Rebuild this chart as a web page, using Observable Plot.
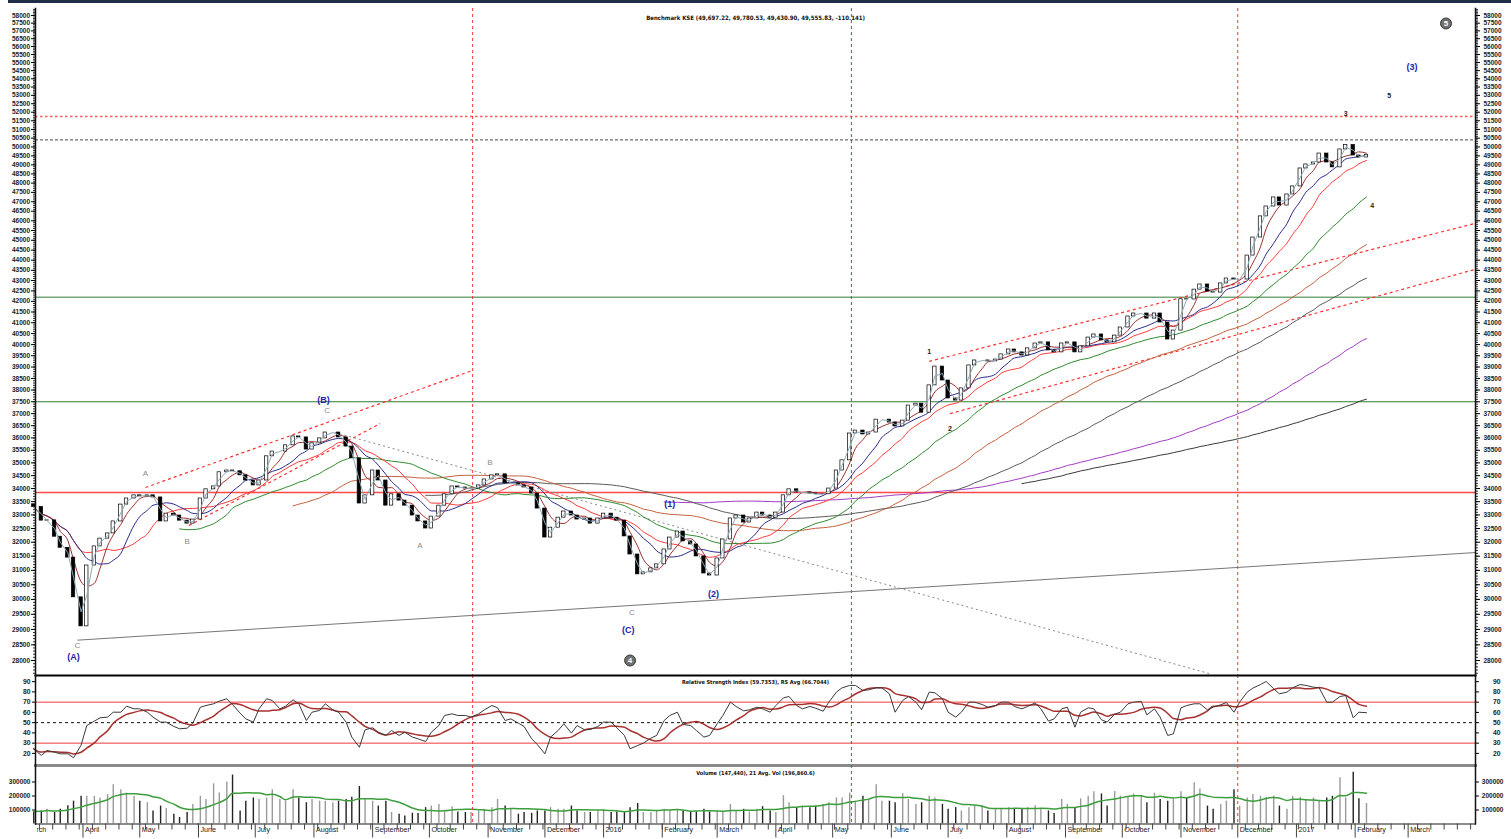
<!DOCTYPE html>
<html><head><meta charset="utf-8">
<script src="https://cdn.jsdelivr.net/npm/d3@7"></script>
<script src="https://cdn.jsdelivr.net/npm/@observablehq/plot@0.6"></script>
<style>
body{margin:0;background:#fff;width:1511px;height:839px;overflow:hidden;position:relative;font-family:"Liberation Sans",Arial,sans-serif}
#topbar{position:absolute;left:8px;top:0;width:1503px;height:3px;background:#1f2d46;z-index:5}
.panel{position:absolute;left:0}
#mask{position:absolute;left:0;top:826px;width:37px;height:13px;background:#fff;z-index:5}
</style></head><body>
<div id="topbar"></div>
<div id="main" class="panel" style="top:0"></div>
<div id="rsi" class="panel" style="top:675px"></div>
<div id="vol" class="panel" style="top:765px"></div>
<div id="mask"></div>
<script>
// ---------- DATA (semi-weekly samples Tue/Fri) ----------
const firstOpen = 33400;
const closes = [
33300,32790,32800,32200,31800,31450,30070,29100,31170,31850,
32130,32320,32760,33390,33620,33740,33700,33740,33660,32760,
33050,32980,32790,32680,32830,33620,33970,34080,34630,34700,
34670,34510,34310,34120,34310,35260,35450,35450,35700,36060,
36020,35530,35780,35980,36220,36220,36020,35650,35180,33430,
33740,34700,34310,33350,33780,33540,33350,32980,32760,32500,
32940,33350,33780,34080,34040,34000,34000,34120,34350,34510,
34550,34200,34200,34120,34040,33810,33240,32170,32530,32900,
33130,32980,32830,32870,32680,32870,33050,32900,32790,32210,
31560,30860,30930,31070,31210,31740,32170,32390,32030,31920,
31490,30890,30820,31420,32100,32870,32980,32720,32870,33090,
32980,32900,33090,33740,33970,33850,33850,33810,33780,33780,
34000,34700,35100,36180,36300,36140,36220,36750,36750,36630,
36470,36710,37340,37420,37040,38200,39020,38410,37640,37550,
38070,39070,39290,39290,39250,39330,39560,39780,39650,39510,
39830,40050,40100,39740,39650,40050,40100,39650,39920,40320,
40460,40190,40100,40410,40780,41290,41430,41430,41190,41430,
41010,40230,40640,42100,42090,42560,42810,42470,42420,42860,
43100,43050,43050,44230,45140,46230,46750,47230,46800,47390,
47820,48800,49020,49130,49630,49130,48860,49860,50110,49520,
49410,49560
];
const volumeThousands = [
90,93,105,82,105,130,163,198,198,198,
186,210,280,245,221,198,163,152,93,128,
110,70,47,82,140,198,175,287,221,300,
350,93,163,186,175,186,245,175,163,245,
186,152,175,163,163,152,163,175,191,268,
175,163,128,163,82,70,58,77,75,117,
128,140,86,124,86,82,82,93,105,117,
175,
128,105,70,82,77,93,93,117,105,105,
128,93,82,82,93,105,82,86,82,117,
147,82,82,93,105,93,105,93,82,86,
105,86,93,82,140,93,105,86,105,124,
93,82,203,152,117,128,117,128,140,152,
186,186,221,163,198,175,280,163,163,152,
217,175,140,152,198,186,140,105,117,93,
117,128,128,93,105,
105,117,105,110,117,130,105,93,75,175,
140,110,180,198,230,215,128,233,200,190,
215,198,152,220,175,163,175,230,190,295,
250,128,105,140,163,245,128,186,210,198,
190,200,128,105,198,190,175,186,163,186,
198,330,186,370,180,147
];
const rsiValues = [
24.5,18,22.8,21.2,19.6,19.6,15.7,28,47.2,51.5,
54.7,55.4,60.2,60.2,66.1,63.5,63.5,60.2,55.4,50.5,
50.5,46.3,44,44.6,49.5,65.1,66.7,68.4,71,73.3,
67.7,59.3,53.7,50.5,63.5,73.3,71.6,63.5,66.1,72.3,
68.4,52.1,60.2,61.9,68.4,62.5,60.2,50.5,35.9,26,
43,45,40.7,37.5,42.4,37.5,40.7,35.9,34.2,31.6,
40.7,47.2,57,58.6,57,57,55.4,58.6,62.5,66.7,
64.5,
52.1,53.7,49.5,46.3,34.2,28.7,19.6,35.9,42.4,48.9,
39.8,47.2,43,43.3,46.3,50.5,50.5,45,37.5,24.5,
27.7,30,34.9,37.5,52.1,57,60.2,48.2,47.2,42.4,
35.9,37.5,48.9,57,70,65.8,61.5,62.5,65.1,63.5,
60.2,66.7,74.2,75.5,66.7,63.5,65.8,64.1,61.2,70,
79.8,84,86.3,86.3,81.4,82,84,84,78.1,60.2,
71.6,75.5,70,62.5,79.8,79.1,73.3,60.2,55.4,60.2,
70,70,67.7,65.1,66.7,
70,70,65.8,63.5,65.8,69.3,63.5,51.5,53.7,63.5,
65.1,45.6,60.2,64.5,63.5,52.8,50.5,58.3,60.2,68.4,
70,70.7,57.6,63.5,55.4,37.5,39.1,64.5,66.7,68.4,
68.4,62.5,65.1,67.4,69.7,60.2,70,79.8,83.7,87.2,
90.2,83,78.1,79.8,84,87.2,86.3,84.6,84,70,
70,75.5,76.5,54.7,60.2,59.7
];
// sample dates: every Tuesday and Friday
const sampleDates = d3.utcDay.range(new Date("2015-03-06"), new Date("2017-02-08"))
  .filter(d => d.getUTCDay() === 5 || d.getUTCDay() === 2);

// horizontal levels
const levelRedDotted = [51750];
const levelBlackDashed = [50400];
const levelGreen = [42200, 37500];
const levelRed = [33850];
// vertical markers
const markerRed = ["2015-10-23T20:00Z", "2016-12-01T00:00Z"];
const markerGreen = ["2016-05-10T22:00Z"];
// trend lines
const trendSupport = [{d1:"2015-03-29", v1:28650, d2:"2017-04-05T14:00Z", v2:31630}];
const trendRedDotted = [
  {d1:"2015-05-04", v1:34040, d2:"2015-10-23T20:00Z", v2:38850},
  {d1:"2015-05-27", v1:32610, d2:"2015-09-05", v2:36590},
  {d1:"2016-06-21", v1:39250, d2:"2017-04-05T14:00Z", v2:45870},
  {d1:"2016-07-02", v1:37000, d2:"2017-04-05T14:00Z", v2:43550}
];
const trendGrayDotted = [{d1:"2015-08-12", v1:36220, d2:"2016-11-16", v2:27590}];
// wave labels
const labelsMajor = [
  {date:"2015-03-27", value:28100, text:"(A)"},
  {date:"2015-08-06", value:37590, text:"(B)"},
  {date:"2016-02-05", value:33390, text:"(1)"},
  {date:"2016-01-14", value:28970, text:"(C)"},
  {date:"2016-02-28", value:30170, text:"(2)"},
  {date:"2017-03-03", value:54720, text:"(3)"}
];
const labelsMinor = [
  {date:"2015-03-29", value:28480, text:"C"},
  {date:"2015-05-04", value:34590, text:"A"},
  {date:"2015-05-26", value:32030, text:"B"},
  {date:"2015-08-08", value:37130, text:"C"},
  {date:"2015-09-26", value:31880, text:"A"},
  {date:"2015-11-02", value:35020, text:"B"},
  {date:"2016-01-16", value:29560, text:"C"}
];
const labelsCount = [
  {date:"2016-06-21", value:39690, text:"1"},
  {date:"2016-07-02", value:36385, text:"2"},
  {date:"2017-01-27", value:51920, text:"3"},
  {date:"2017-02-10", value:46800, text:"4"},
  {date:"2017-02-19", value:52960, text:"5"}
];
const labelsCircled = [
  {date:"2016-01-15", value:28000, text:"4"},
  {date:"2017-03-21", value:57480, text:"5"}
];
const mainTitle = "Benchmark KSE (49,697.22, 49,780.53, 49,430.90, 49,555.83, -110.141)";
const rsiTitle = "Relative Strength Index (59.7353), RS Avg (66.7044)";
const volTitle = "Volume (147,440), 21 Avg. Vol (196,860.6)";
const priceTicks = d3.range(28000, 58001, 500);
const rsiTicks = [20,30,40,50,60,70,80,90];
const volTicks = [100000, 200000, 300000];

// ---------- BUILD ----------
const DAY = 864e5;
const n = Math.min(sampleDates.length, closes.length, volumeThousands.length, rsiValues.length);
const rows = d3.range(n).map(i => ({
  date: sampleDates[i],
  open: i ? closes[i-1] : firstOpen,
  close: closes[i],
  volume: volumeThousands[i] * 1000,
  rsi: rsiValues[i]
}));
const xDomain = [new Date(Date.UTC(2015,2,6,22)), new Date(Date.UTC(2017,3,5,14))];
const FONT = "Liberation Sans, Arial, sans-serif";
const NARROW = "Liberation Sans Narrow, DejaVu Sans Condensed, Liberation Sans, Arial";
const W = 1511, ML = 35, MR = 36;
const seg = d => ({x1: new Date(d.d1), y1: d.v1, x2: new Date(d.d2), y2: d.v2});
const toSeg = arr => arr.map(seg);
const lbl = arr => arr.map(d => ({...d, date: new Date(d.date)}));

const maDefs = [
  {k:150, stroke:"#3a3a3a", strict:true},
  {k:96, stroke:"#a23cc4", strict:true},
  {k:60, stroke:"#5a5a5a", strict:true},
  {k:40, stroke:"#c2623e", strict:true},
  {k:23, stroke:"#2f8a2f", strict:true},
  {k:12, stroke:"#ff3a3a", strict:false},
  {k:8, stroke:"#2b2b8c", strict:false},
  {k:4, stroke:"#9b2f2f", strict:false}
];

const axisTxt = {fontSize: 6.5, fontWeight: "bold", fill: "#222", fontFamily: FONT};

const main = Plot.plot({
  width: W, height: 675, marginLeft: ML, marginRight: MR, marginTop: 8, marginBottom: 0,
  style: {background: "transparent", fontFamily: FONT, overflow: "visible"},
  x: {type: "utc", domain: xDomain, axis: null},
  y: {type: "log", domain: [27530, 58460]},
  marks: [
    Plot.axisY({anchor: "left", ticks: d3.range(27600, 58401, 100), tickSize: 2, tickFormat: () => "", label: null, stroke: "#333"}),
    Plot.axisY({anchor: "right", ticks: d3.range(27600, 58401, 100), tickSize: 2, tickFormat: () => "", label: null, stroke: "#333"}),
    Plot.axisY({anchor: "left", ticks: priceTicks, tickSize: 4, tickPadding: 1.5, tickFormat: d => String(d), label: null, ...axisTxt}),
    Plot.axisY({anchor: "right", ticks: priceTicks, tickSize: 4, tickPadding: 4, tickFormat: d => String(d), label: null, ...axisTxt}),
    Plot.ruleY(levelRedDotted, {stroke: "#ff5a5a", strokeWidth: 1.6, strokeDasharray: "2.5,2.5"}),
    Plot.ruleY(levelBlackDashed, {stroke: "#333", strokeWidth: 0.9, strokeDasharray: "3,2"}),
    Plot.ruleY(levelGreen, {stroke: "#2e7d32", strokeWidth: 1}),
    Plot.ruleY(levelRed, {stroke: "#ff4a4a", strokeWidth: 1.4}),
    Plot.ruleX(markerRed.map(d => new Date(d)), {stroke: "#ff3030", strokeDasharray: "3,3", strokeWidth: 1}),
    Plot.ruleX(markerGreen.map(d => new Date(d)), {stroke: "#2a8a2a", strokeDasharray: "3,3", strokeWidth: 1}),
    Plot.link(toSeg(trendSupport), {x1:"x1", y1:"y1", x2:"x2", y2:"y2", stroke: "#777", strokeWidth: 1}),
    Plot.link(toSeg(trendRedDotted), {x1:"x1", y1:"y1", x2:"x2", y2:"y2", stroke: "#ff3030", strokeWidth: 1.2, strokeDasharray: "3,3"}),
    Plot.link(toSeg(trendGrayDotted), {x1:"x1", y1:"y1", x2:"x2", y2:"y2", stroke: "#888", strokeWidth: 1, strokeDasharray: "2,3"}),
    ...maDefs.map(m => Plot.lineY(rows, Plot.windowY({k: m.k, reduce: "mean", anchor: "end", strict: m.strict},
      {x: "date", y: "close", stroke: m.stroke, strokeWidth: 1, curve: "monotone-x"}))),
    Plot.rect(rows, {
      x1: d => new Date(+d.date - 0.9 * DAY), x2: d => new Date(+d.date + 0.9 * DAY),
      y1: "open", y2: "close",
      fill: d => d.close >= d.open ? "#fff" : "#000", stroke: "#000", strokeWidth: 0.7
    }),
    Plot.lineY(rows, Plot.windowY({k: 2, reduce: "mean", anchor: "end"}, {x: "date", y: "close", stroke: "#8fa9b8", strokeWidth: 1})),
    Plot.text(lbl(labelsMajor), {x: "date", y: "value", text: "text", fill: "#2424a8", fontWeight: "bold", fontSize: 9, fontFamily: FONT}),
    Plot.text(lbl(labelsMinor), {x: "date", y: "value", text: "text", fill: "#8a8a8a", fontSize: 8, fontFamily: FONT}),
    Plot.text(lbl(labelsCount), {x: "date", y: "value", text: "text", fill: "#222", fontWeight: "bold", fontSize: 7, fontFamily: FONT}),
    Plot.dot(lbl(labelsCircled), {x: "date", y: "value", r: 5.5, fill: "#6f6f6f", stroke: "#3a3a3a", strokeWidth: 1}),
    Plot.text(lbl(labelsCircled), {x: "date", y: "value", text: "text", fill: "#fff", fontWeight: "bold", fontSize: 8, fontFamily: FONT}),
    Plot.text([mainTitle], {text: d => d, frameAnchor: "top", dy: 7, fontSize: 6, fontWeight: "bold", fill: "#111", fontFamily: NARROW}),
    Plot.frame({anchor: "left", stroke: "#111", strokeWidth: 1.5}),
    Plot.frame({anchor: "right", stroke: "#111", strokeWidth: 1.5})
  ]
});
document.getElementById("main").appendChild(main);

const rsiChart = Plot.plot({
  width: W, height: 90, marginLeft: ML, marginRight: MR, marginTop: 0, marginBottom: 0,
  style: {background: "transparent", fontFamily: FONT, overflow: "visible"},
  x: {type: "utc", domain: xDomain, axis: null},
  y: {domain: [8.2, 96]},
  marks: [
    Plot.axisY({anchor: "left", ticks: rsiTicks, tickSize: 3, tickPadding: 2, tickFormat: d => String(d), label: null, ...axisTxt, fontSize: 6.8}),
    Plot.axisY({anchor: "right", ticks: rsiTicks, tickSize: 3, tickPadding: 22, textAnchor: "end", tickFormat: d => String(d), label: null, ...axisTxt, fontSize: 6.8}),
    Plot.ruleY([70, 30], {stroke: "#f03a3a", strokeWidth: 1}),
    Plot.ruleY([50], {stroke: "#111", strokeDasharray: "3,3", strokeWidth: 1}),
    Plot.ruleX(markerRed.map(d => new Date(d)), {stroke: "#ff3030", strokeDasharray: "3,3", strokeWidth: 1}),
    Plot.ruleX(markerGreen.map(d => new Date(d)), {stroke: "#2a8a2a", strokeDasharray: "3,3", strokeWidth: 1}),
    Plot.lineY(rows, Plot.windowY({k: 6, reduce: "mean", anchor: "end"}, {x: "date", y: "rsi", stroke: "#a8302e", strokeWidth: 1.5, curve: "monotone-x"})),
    Plot.lineY(rows, {x: "date", y: "rsi", stroke: "#3a3a3a", strokeWidth: 1}),
    Plot.text([rsiTitle], {text: d => d, frameAnchor: "top", dy: 5, fontSize: 5.5, fontWeight: "bold", fill: "#111", fontFamily: NARROW}),
    Plot.frame({anchor: "top", stroke: "#000", strokeWidth: 2}),
    Plot.frame({anchor: "bottom", stroke: "#8a8a8a", strokeWidth: 3}),
    Plot.frame({anchor: "left", stroke: "#111", strokeWidth: 1.5}),
    Plot.frame({anchor: "right", stroke: "#111", strokeWidth: 1.5})
  ]
});
document.getElementById("rsi").appendChild(rsiChart);

const weeks = d3.utcMonday.range(xDomain[0], xDomain[1]);
const monthStarts = d3.utcMonth.range(new Date("2015-03-01"), new Date("2017-04-01"));
const monthLabels = monthStarts.map(d => ({date: d, label: d.getUTCMonth() === 0 ? String(d.getUTCFullYear()) : d3.utcFormat("%B")(d)}));

const volChart = Plot.plot({
  width: W, height: 74, marginLeft: ML, marginRight: MR, marginTop: 0, marginBottom: 15.5,
  style: {background: "transparent", fontFamily: FONT, overflow: "visible"},
  x: {type: "utc", domain: xDomain},
  y: {domain: [0, 418000]},
  marks: [
    Plot.axisY({anchor: "left", ticks: volTicks, tickSize: 3, tickPadding: 2, tickFormat: d => String(d), label: null, ...axisTxt}),
    Plot.axisY({anchor: "right", ticks: volTicks, tickSize: 3, tickPadding: 25, textAnchor: "end", tickFormat: d => String(d), label: null, ...axisTxt}),
    Plot.ruleX(rows, {x: "date", y1: 0, y2: "volume", stroke: d => d.close >= d.open ? "#9a9a9a" : "#222", strokeWidth: 1.4}),
    Plot.lineY(rows, Plot.windowY({k: 8, reduce: "mean", anchor: "end"}, {x: "date", y: "volume", stroke: "#3d9e3d", strokeWidth: 1.5, curve: "monotone-x"})),
    Plot.ruleX(markerRed.map(d => new Date(d)), {stroke: "#ff3030", strokeDasharray: "3,3", strokeWidth: 1}),
    Plot.ruleX(markerGreen.map(d => new Date(d)), {stroke: "#2a8a2a", strokeDasharray: "3,3", strokeWidth: 1}),
    Plot.text([volTitle], {text: d => d, frameAnchor: "top", dy: 6, fontSize: 5.5, fontWeight: "bold", fill: "#111", fontFamily: NARROW}),
    Plot.ruleY([0], {stroke: "#666", strokeWidth: 1.5}),
    Plot.axisX({ticks: weeks, tickSize: 6, tickFormat: () => "", label: null, stroke: "#444"}),
    Plot.axisX({ticks: monthStarts.filter(d => d >= xDomain[0]), tickSize: 14, tickFormat: () => "", label: null, stroke: "#444"}),
    Plot.text(monthLabels, {x: "date", text: "label", frameAnchor: "bottom", dy: 8, dx: 2, textAnchor: "start", fontSize: 7.2, fill: "#222", fontFamily: FONT}),
    Plot.frame({anchor: "left", stroke: "#111", strokeWidth: 1.5}),
    Plot.frame({anchor: "right", stroke: "#111", strokeWidth: 1.5})
  ]
});
document.getElementById("vol").appendChild(volChart);
</script>
</body></html>
